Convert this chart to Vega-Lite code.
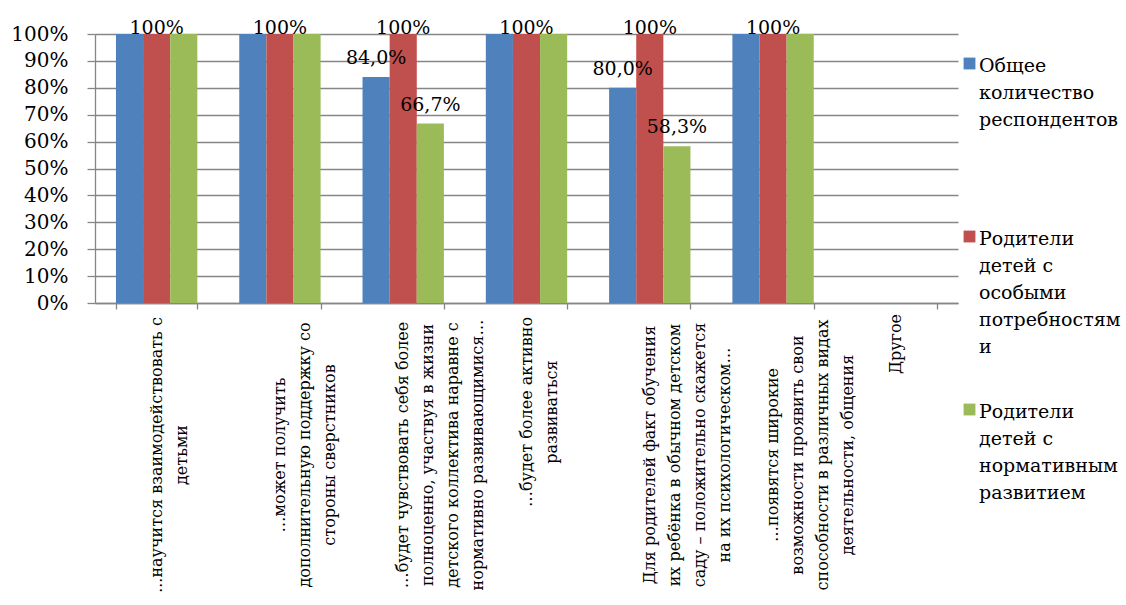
{
  "$schema": "https://vega.github.io/schema/vega-lite/v6.json",
  "width": 863,
  "height": 269,
  "autosize": {"type": "none"},
  "padding": {"left": 95, "top": 34, "right": 168, "bottom": 302},
  "background": "white",
  "datasets": {
    "bars": [
      {"cat": "c1", "series": "Общее количество респондентов", "value": 1, "label": ""},
      {"cat": "c1", "series": "Родители детей с особыми потребностями", "value": 1, "label": "100%"},
      {"cat": "c1", "series": "Родители детей с нормативным развитием", "value": 1, "label": ""},
      {"cat": "c2", "series": "Общее количество респондентов", "value": 1, "label": ""},
      {"cat": "c2", "series": "Родители детей с особыми потребностями", "value": 1, "label": "100%"},
      {"cat": "c2", "series": "Родители детей с нормативным развитием", "value": 1, "label": ""},
      {"cat": "c3", "series": "Общее количество респондентов", "value": 0.84, "label": "84,0%"},
      {"cat": "c3", "series": "Родители детей с особыми потребностями", "value": 1, "label": "100%"},
      {"cat": "c3", "series": "Родители детей с нормативным развитием", "value": 0.667, "label": "66,7%"},
      {"cat": "c4", "series": "Общее количество респондентов", "value": 1, "label": ""},
      {"cat": "c4", "series": "Родители детей с особыми потребностями", "value": 1, "label": "100%"},
      {"cat": "c4", "series": "Родители детей с нормативным развитием", "value": 1, "label": ""},
      {"cat": "c5", "series": "Общее количество респондентов", "value": 0.8, "label": "80,0%"},
      {"cat": "c5", "series": "Родители детей с особыми потребностями", "value": 1, "label": "100%"},
      {"cat": "c5", "series": "Родители детей с нормативным развитием", "value": 0.583, "label": "58,3%"},
      {"cat": "c6", "series": "Общее количество респондентов", "value": 1, "label": ""},
      {"cat": "c6", "series": "Родители детей с особыми потребностями", "value": 1, "label": "100%"},
      {"cat": "c6", "series": "Родители детей с нормативным развитием", "value": 1, "label": ""}
    ],
    "cats": [
      {"cat": "c1", "text": "...научится взаимодействовать с\nдетьми"},
      {"cat": "c2", "text": "…может получить\nдополнительную поддержку со\nстороны сверстников"},
      {"cat": "c3", "text": "…будет чувствовать себя более\nполноценно, участвуя в жизни\nдетского коллектива наравне с\nнормативно развивающимися…"},
      {"cat": "c4", "text": "…будет более активно\nразвиваться"},
      {"cat": "c5", "text": "Для родителей факт обучения\nих ребёнка в обычном детском\nсаду – положительно скажется\nна их психологическом…"},
      {"cat": "c6", "text": "…появятся широкие\nвозможности проявить свои\nспособности в различных видах\nдеятельности, общения"},
      {"cat": "c7", "text": "Другое"}
    ]
  },
  "data": {"name": "bars"},
  "encoding": {
    "x": {
      "field": "cat",
      "type": "nominal",
      "sort": null,
      "scale": {
        "domain": ["c1", "c2", "c3", "c4", "c5", "c6", "c7"],
        "paddingInner": 0.34,
        "paddingOuter": 0.17
      },
      "axis": {
        "title": null,
        "labels": false,
        "tickBand": "extent",
        "tickSize": 6,
        "tickColor": "#868686",
        "tickWidth": 1.3,
        "domainColor": "#868686",
        "domainWidth": 1.3,
        "grid": false
      }
    }
  },
  "layer": [
    {
      "mark": {"type": "bar"},
      "encoding": {
        "y": {
          "field": "value",
          "type": "quantitative",
          "scale": {"domain": [0, 1], "nice": false},
          "axis": {
            "title": null,
            "format": ".0%",
            "values": [0, 0.1, 0.2, 0.3, 0.4, 0.5, 0.6, 0.7, 0.8, 0.9, 1],
            "labelFont": "DejaVu Serif",
            "labelFontSize": 20,
            "labelColor": "black",
            "labelPadding": 19,
            "tickSize": 8,
            "tickColor": "#868686",
            "tickWidth": 1.3,
            "domainColor": "#868686",
            "domainWidth": 1.3,
            "gridColor": "#868686",
            "gridWidth": 1.3
          }
        },
        "xOffset": {"field": "series", "type": "nominal", "sort": null, "scale": {"paddingInner": 0, "paddingOuter": 0}},
        "color": {
          "field": "series",
          "type": "nominal",
          "sort": null,
          "scale": {
            "domain": ["Общее количество респондентов", "Родители детей с особыми потребностями", "Родители детей с нормативным развитием"],
            "range": ["#4F81BD", "#C0504D", "#9BBB59"]
          },
          "legend": {
            "title": null,
            "orient": "right",
            "offset": -18,
            "padding": 20,
            "symbolType": "square",
            "symbolSize": 140,
            "symbolStrokeWidth": 0,
            "labelFont": "DejaVu Serif",
            "labelFontSize": 19,
            "labelColor": "black",
            "labelBaseline": "top",
            "labelLimit": 0,
            "labelOffset": 0,
            "rowPadding": 43,
            "labelExpr": "datum.label == 'Общее количество респондентов' ? ['Общее','количество','респондентов','',''] : datum.label == 'Родители детей с особыми потребностями' ? ['Родители','детей с','особыми','потребностям','и'] : ['Родители','детей с','нормативным','развитием','']",
            "encode": {
              "labels": {"update": {"dy": {"value": -7}}}
            }
          }
        }
      }
    },
    {
      "transform": [{"filter": "datum.label != '' && datum.value == 1"}],
      "mark": {"type": "text", "baseline": "alphabetic", "font": "DejaVu Serif", "fontSize": 19, "color": "black", "dy": 0},
      "encoding": {
        "y": {
          "field": "value",
          "type": "quantitative",
          "scale": {"domain": [0, 1], "nice": false},
          "axis": {
            "title": null,
            "format": ".0%",
            "values": [0, 0.1, 0.2, 0.3, 0.4, 0.5, 0.6, 0.7, 0.8, 0.9, 1],
            "labelFont": "DejaVu Serif",
            "labelFontSize": 20,
            "labelColor": "black",
            "labelPadding": 19,
            "tickSize": 8,
            "tickColor": "#868686",
            "tickWidth": 1.3,
            "domainColor": "#868686",
            "domainWidth": 1.3,
            "gridColor": "#868686",
            "gridWidth": 1.3
          }
        },
        "xOffset": {"field": "series", "type": "nominal", "sort": null, "scale": {"paddingInner": 0, "paddingOuter": 0}},
        "text": {"field": "label"}
      }
    },
    {
      "transform": [{"filter": "datum.label != '' && datum.value < 1"}],
      "mark": {"type": "text", "baseline": "alphabetic", "font": "DejaVu Serif", "fontSize": 19, "color": "black", "dy": -13},
      "encoding": {
        "y": {
          "field": "value",
          "type": "quantitative",
          "scale": {"domain": [0, 1], "nice": false},
          "axis": {
            "title": null,
            "format": ".0%",
            "values": [0, 0.1, 0.2, 0.3, 0.4, 0.5, 0.6, 0.7, 0.8, 0.9, 1],
            "labelFont": "DejaVu Serif",
            "labelFontSize": 20,
            "labelColor": "black",
            "labelPadding": 19,
            "tickSize": 8,
            "tickColor": "#868686",
            "tickWidth": 1.3,
            "domainColor": "#868686",
            "domainWidth": 1.3,
            "gridColor": "#868686",
            "gridWidth": 1.3
          }
        },
        "xOffset": {"field": "series", "type": "nominal", "sort": null, "scale": {"paddingInner": 0, "paddingOuter": 0}},
        "text": {"field": "label"}
      }
    },
    {
      "data": {"name": "cats"},
      "mark": {
        "type": "text",
        "angle": 270,
        "align": "center",
        "baseline": "middle",
        "lineBreak": "\n",
        "lineHeight": 25,
        "font": "DejaVu Serif",
        "fontSize": 16,
        "color": "black",
        "dx": {"expr": "datum.cat == 'c7' ? -41 : datum.cat == 'c4' ? -109 : -152"}
      },
      "encoding": {
        "y": {
          "datum": 0,
          "type": "quantitative",
          "scale": {"domain": [0, 1], "nice": false},
          "axis": {
            "title": null,
            "format": ".0%",
            "values": [0, 0.1, 0.2, 0.3, 0.4, 0.5, 0.6, 0.7, 0.8, 0.9, 1],
            "labelFont": "DejaVu Serif",
            "labelFontSize": 20,
            "labelColor": "black",
            "labelPadding": 19,
            "tickSize": 8,
            "tickColor": "#868686",
            "tickWidth": 1.3,
            "domainColor": "#868686",
            "domainWidth": 1.3,
            "gridColor": "#868686",
            "gridWidth": 1.3
          }
        },
        "text": {"field": "text"}
      }
    }
  ],
  "config": {
    "view": {"stroke": null},
    "style": {"guide-label": {"lineHeight": 27}}
  }
}
